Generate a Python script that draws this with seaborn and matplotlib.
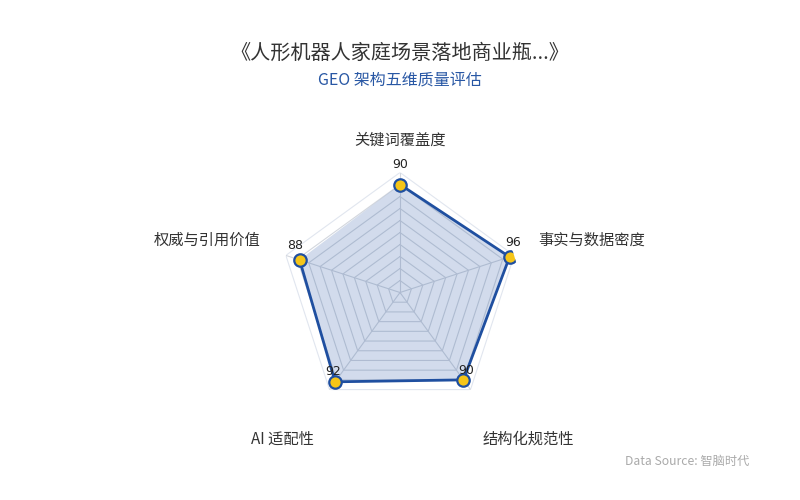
import numpy as np
import pandas as pd
import matplotlib
matplotlib.use('Agg')
import matplotlib.pyplot as plt
import seaborn as sns

# data
dimensions = ['关键词覆盖度', '事实与数据密度', '结构化规范性', 'AI 适配性', '权威与引用价值']
scores = [90, 96, 90, 92, 88]
max_score = 100
ring_levels = [10, 20, 30, 40, 50, 60, 70, 80, 90, 100]

title = '《人形机器人家庭场景落地商业瓶...》'
subtitle = 'GEO 架构五维质量评估'
source = 'Data Source: 智脑时代'

sns.set_theme(style='white')
plt.rcParams['font.family'] = ['Noto Sans CJK SC', 'DejaVu Sans']

line_color = '#1f4fa0'
marker_color = '#f5c518'

n = len(dimensions)
angles = np.arange(n) * 2 * np.pi / n
df = pd.DataFrame({'angle': np.append(angles, angles[0]),
                   'score': scores + scores[:1]})

fig = plt.figure(figsize=(8, 5), dpi=100)
ax = fig.add_axes([0.35, 0.174, 0.3, 0.482], projection='polar')
ax.set_theta_offset(np.pi / 2)
ax.set_theta_direction(-1)
ax.set_ylim(0, max_score)
ax.grid(False)
ax.set_xticks([])
ax.set_yticks([])
ax.spines['polar'].set_visible(False)
ax.set_facecolor('none')

# pentagon grid rings and spokes
closed = np.append(angles, angles[0])
for lvl in ring_levels:
    c = '#e1e6ef' if lvl == max_score else '#d3d7de'
    ax.plot(closed, [lvl] * (n + 1), color=c, lw=0.8, zorder=1)
for a in angles:
    ax.plot([a, a], [0, max_score], color='#d3d7de', lw=0.8, zorder=1)

# data polygon
ax.fill(df['angle'], df['score'], color=line_color, alpha=0.2, lw=0, zorder=2)
sns.lineplot(data=df, x='angle', y='score', sort=False, color=line_color,
             lw=2, ax=ax, zorder=3)
sns.scatterplot(data=df.iloc[:-1], x='angle', y='score', s=80,
                color=marker_color, edgecolor=line_color, linewidth=1.6,
                ax=ax, zorder=4)
ax.set_xlabel('')
ax.set_ylabel('')

# value labels
val_offsets = [(0, 20), (4, 14), (3, 9), (-2, 10), (-4, 14)]
for a, v, off in zip(angles, scores, val_offsets):
    ax.annotate(str(v), (a, v), xytext=off, textcoords='offset pixels',
                ha='center', va='center', fontsize=9, color='#222222',
                family=['DejaVu Sans'], zorder=5)

# axis names
name_offsets = [(0, 32, 'center'), (24, 15, 'left'), (58, -50, 'center'),
                (-47, -50, 'center'), (-25, 15, 'right')]
for a, name, (dx, dy, ha) in zip(angles, dimensions, name_offsets):
    ax.annotate(name, (a, max_score), xytext=(dx, dy), textcoords='offset pixels',
                ha=ha, va='center', fontsize=11, color='#333333')

fig.text(0.5, 0.894, title, ha='center', va='center', fontsize=14.5, color='#333333')
fig.text(0.5, 0.84, subtitle, ha='center', va='center', fontsize=11.5, color='#2857a4')
fig.text(0.937, 0.078, source, ha='right', va='center', fontsize=8.8, color='#aaaaaa')

fig.savefig('out.png', dpi=100, facecolor='white')
